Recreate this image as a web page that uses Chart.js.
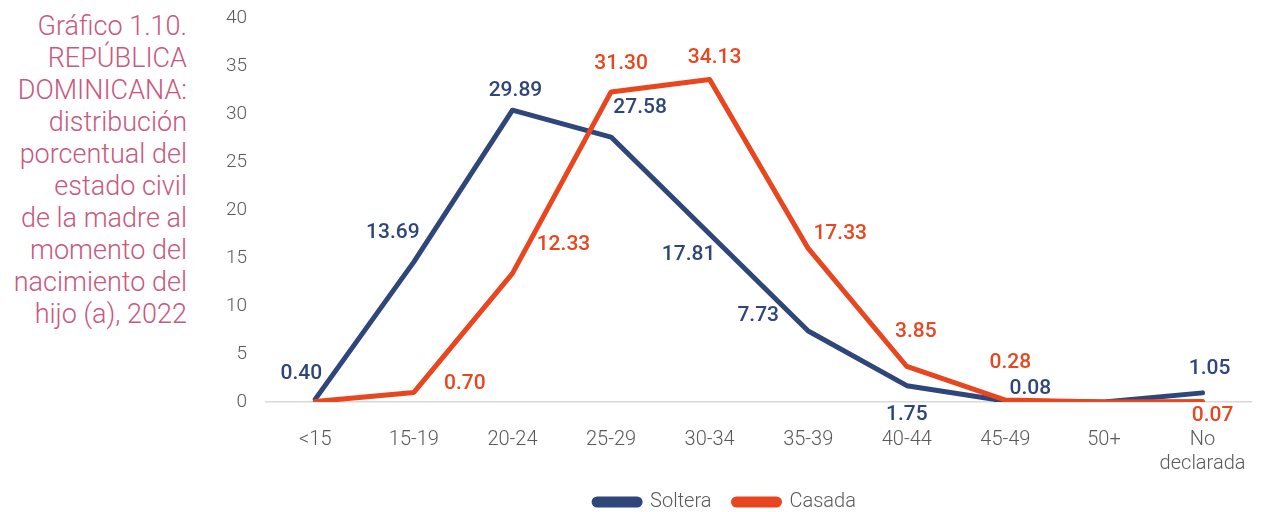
<!DOCTYPE html>
<html>
<head>
<meta charset="utf-8">
<script src="https://cdn.jsdelivr.net/npm/chart.js@4"></script>
<style>
  html, body { margin: 0; padding: 0; background: #fff; }
  #wrap { position: relative; width: 1264px; height: 512px; }
  #title {
    position: absolute; right: 1077px; top: 10px; width: 240px;
    text-align: right; font-family: Roboto, sans-serif; font-weight: 300;
    font-size: 27px; line-height: 32px; color: #C9587F;
  }
  canvas { position: absolute; left: 0; top: 0; }
</style>
</head>
<body>
<div id="wrap">
  <div id="title">Gráfico 1.10.<br>REPÚBLICA<br>DOMINICANA:<br>distribución<br>porcentual del<br>estado civil<br>de la madre al<br>momento del<br>nacimiento del<br>hijo (a), 2022</div>
  <canvas id="chartCanvas" width="1264" height="512"></canvas>
</div>
<script>
  // categorias (grupos de edad)
  const categories = ["<15", "15-19", "20-24", "25-29", "30-34", "35-39", "40-44", "45-49", "50+", ["No", "declarada"]];
  // valores
  const soltera = [0.3, 14.6, 30.4, 27.6, 17.5, 7.4, 1.7, 0.1, 0.0, 0.95];
  const casada = [0.05, 1.0, 13.4, 32.3, 33.6, 16.0, 3.7, 0.2, 0.0, 0.05];
  // etiquetas de datos tal como aparecen
  const solteraLabels = ["0.40", "13.69", "29.89", "27.58", "17.81", "7.73", "1.75", "0.08", "", "1.05"];
  const casadaLabels = ["", "0.70", "12.33", "31.30", "34.13", "17.33", "3.85", "0.28", "", "0.07"];
  const yTicks = [0, 5, 10, 15, 20, 25, 30, 35, 40];

  const NAVY = "#2E4679";
  const ORANGE = "#E8461E";

  // desplazamiento de cada etiqueta respecto a su punto
  const labelOffsets = [
    [[-14, -25], [-21, -29], [3, -19], [29, -29], [-21, 21], [-50, -15], [0, 29], [25, -12], [0, 0], [7, -24]],
    [[0, 0], [51, -9], [51, -29], [10, -28], [5, -22], [32, -15], [9, -35], [5, -37], [0, 0], [10, 14]]
  ];
  const labelTexts = [solteraLabels, casadaLabels];

  const dataLabelPlugin = {
    id: "dataLabels",
    afterInit(chart) {
      // leyenda mas pegada al borde inferior
      const origFit = chart.legend.fit;
      chart.legend.fit = function () {
        origFit.call(this);
        this.height -= 10;
      };
    },
    afterDatasetsDraw(chart) {
      const ctx = chart.ctx;
      ctx.save();
      ctx.font = "500 21px Roboto";
      ctx.textAlign = "center";
      ctx.textBaseline = "middle";
      chart.data.datasets.forEach((ds, di) => {
        const meta = chart.getDatasetMeta(di);
        ctx.fillStyle = ds.borderColor;
        meta.data.forEach((pt, i) => {
          const txt = labelTexts[di][i];
          if (!txt) return;
          const off = labelOffsets[di][i];
          ctx.fillText(txt, pt.x + off[0], pt.y + off[1]);
        });
      });
      ctx.restore();
    }
  };

  const ctx = document.getElementById("chartCanvas").getContext("2d");
  new Chart(ctx, {
    type: "line",
    data: {
      labels: categories,
      datasets: [
        {
          label: "Soltera", data: soltera, borderColor: NAVY, backgroundColor: NAVY,
          borderWidth: 5, pointRadius: 0, borderCapStyle: "round", borderJoinStyle: "round", order: 1
        },
        {
          label: "Casada", data: casada, borderColor: ORANGE, backgroundColor: ORANGE,
          borderWidth: 5, pointRadius: 0, borderCapStyle: "round", borderJoinStyle: "round", order: 0
        }
      ]
    },
    options: {
      responsive: false,
      animation: false,
      layout: { padding: { left: 196, right: 10, top: 18, bottom: 0 } },
      plugins: {
        tooltip: { enabled: false },
        legend: {
          position: "bottom",
          labels: {
            font: { family: "Roboto", weight: 300, size: 20 },
            color: "#595959",
            boxWidth: 46, boxHeight: 6,
            useBorderRadius: true, borderRadius: 3,
            padding: 22,
            sort: (a, b) => a.datasetIndex - b.datasetIndex
          }
        }
      },
      scales: {
        x: {
          offset: true,
          afterFit: (scale) => { scale.height -= 24; },
          grid: { display: false },
          border: { color: "#D9D9D9", width: 1.5 },
          ticks: {
            font: { family: "Roboto", weight: 300, size: 20 },
            color: "#595959", maxRotation: 0, autoSkip: false, padding: 18
          }
        },
        y: {
          min: 0, max: 40,
          afterFit: (scale) => {
            scale.width = 70;
            scale.paddingTop = 0;
            scale.paddingBottom = 0;
          },
          afterBuildTicks: (scale) => { scale.ticks = yTicks.map(v => ({ value: v })); },
          grid: { display: false, drawTicks: false },
          border: { display: false },
          ticks: {
            font: { family: "Roboto", weight: 300, size: 19 },
            color: "#595959", padding: 19
          }
        }
      }
    },
    plugins: [dataLabelPlugin]
  });
</script>
</body>
</html>
